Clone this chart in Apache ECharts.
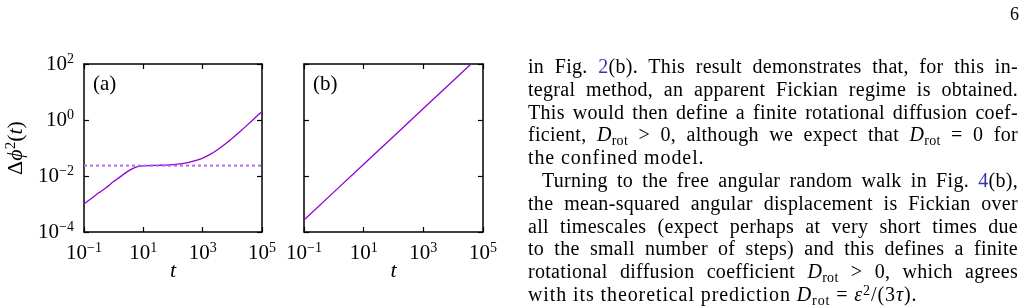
<!DOCTYPE html>
<html>
<head>
<meta charset="utf-8">
<script src="https://cdn.jsdelivr.net/npm/echarts@6/dist/echarts.min.js"></script>
<style>
  body { margin: 0; background: #fff; }
  #chart { position: absolute; left: 0; top: 0; width: 1029px; height: 307px; }
  #page { position: absolute; left: 1010px; top: 4px; font-family: 'Liberation Serif', serif; font-size: 18px; }
  #text { position: absolute; left: 528px; top: 55px; width: 490px; font-family: 'Liberation Serif', serif; font-size: 20px; letter-spacing: 0.3px; line-height: 22.8px; color: #000; }
  #text .j { text-align: justify; text-align-last: justify; }
  #text .l { text-align: left; letter-spacing: 0.9px; }
  #text .ind { text-indent: 14px; }
  #text sub { font-size: 0.7em; line-height: 0; vertical-align: -0.25em; }
  #text sup { font-size: 0.7em; line-height: 0; vertical-align: 0.45em; }
  #text .ref { color: #3333b3; }
</style>
</head>
<body>
<div id="chart"></div>
<div id="page">6</div>
<div id="text">
  <div class="j">in Fig. <span class="ref">2</span>(b). This result demonstrates that, for this in-</div>
  <div class="j">tegral method, an apparent Fickian regime is obtained.</div>
  <div class="j">This would then define a finite rotational diffusion coef-</div>
  <div class="j">ficient, <i>D</i><sub>rot</sub> &gt; 0, although we expect that <i>D</i><sub>rot</sub> = 0 for</div>
  <div class="l">the confined model.</div>
  <div class="j ind">Turning to the free angular random walk in Fig. <span class="ref">4</span>(b),</div>
  <div class="j">the mean-squared angular displacement is Fickian over</div>
  <div class="j">all timescales (expect perhaps at very short times due</div>
  <div class="j">to the small number of steps) and this defines a finite</div>
  <div class="j">rotational diffusion coefficient <i>D</i><sub>rot</sub> &gt; 0, which agrees</div>
  <div class="l">with its theoretical prediction <i>D</i><sub>rot</sub> = <i>ε</i><sup>2</sup>/(3<i>τ</i>).</div>
</div>
<script>
// (a) confined walk, read at quarter decades
var timeA = [0.1, 0.178, 0.316, 0.562, 1, 1.78, 3.16, 5.62, 10, 17.8, 31.6, 56.2, 100, 178, 316, 562,
             1000, 1778, 3162, 5623, 10000, 17783, 31623, 56234, 100000];
var msdA = [0.001, 0.00158, 0.00251, 0.00389, 0.00631, 0.0099, 0.0153, 0.0207, 0.0231, 0.0237, 0.0241, 0.02455, 0.0254,
            0.0269, 0.0302, 0.0355, 0.0437, 0.0589, 0.0871, 0.136, 0.224, 0.38, 0.656, 1.148, 2.02];
var plateauA = 0.0235;
// (b) free walk
var timeB = [0.1, 1, 10, 100, 1000, 10000, 100000];
var msdB = [0.000268, 0.00265, 0.0262, 0.259, 2.57, 25.4, 251];
// tick exponents
var xTickExp = [-1, 1, 3, 5];
var yTickExp = [-4, -2, 0, 2];

var serif = 'Liberation Serif';
var chart = echarts.init(document.getElementById('chart'));

function pairs(xs, ys) {
  return xs.map(function (x, i) { return [x, ys[i]]; });
}
function powLabel(v) {
  var e = Math.round(Math.log(v) / Math.LN10);
  return '{b|10}{s|' + (e < 0 ? '\u2212' + (-e) : e) + '}';
}
var rich = {
  b: { fontFamily: serif, fontSize: 21, lineHeight: 24, color: '#000' },
  s: { fontFamily: serif, fontSize: 14, lineHeight: 14, verticalAlign: 'top', color: '#000' }
};
var lineBlack = { show: true, onZero: false, lineStyle: { color: '#000', width: 1.5 } };
var tickIn = { show: true, inside: true, length: 5, lineStyle: { color: '#000', width: 1.2 } };

function xAxes(g) {
  var base = {
    type: 'log', logBase: 10, gridIndex: g,
    min: Math.pow(10, xTickExp[0]), max: Math.pow(10, xTickExp[xTickExp.length - 1]),
    interval: 2,
    axisLine: lineBlack, axisTick: tickIn, splitLine: { show: false }, minorTick: { show: false }
  };
  return [
    Object.assign({}, base, {
      position: 'bottom',
      axisLabel: { margin: 9, formatter: powLabel, rich: rich },
      name: 't', nameLocation: 'middle', nameGap: 28, nameMoveOverlap: false,
      nameTextStyle: { fontFamily: serif, fontStyle: 'italic', fontSize: 22, color: '#000' }
    }),
    Object.assign({}, base, { position: 'top', axisLabel: { show: false } })
  ];
}
function yAxes(g, labels) {
  var base = {
    type: 'log', logBase: 10, gridIndex: g,
    min: Math.pow(10, yTickExp[0]), max: Math.pow(10, yTickExp[yTickExp.length - 1]),
    interval: 2,
    axisLine: lineBlack, axisTick: tickIn, splitLine: { show: false }, minorTick: { show: false }
  };
  var left = Object.assign({}, base, {
    position: 'left',
    axisLabel: { show: labels, margin: 10, formatter: powLabel, rich: rich }
  });
  if (labels) {
    left.name = '{n|\u0394}{i|\u03d5}{s|2}{n|(}{i|t}{n|)}';
    left.nameLocation = 'middle';
    left.nameRotate = 90;
    left.nameGap = 56;
    left.nameTextStyle = {
      rich: {
        n: { fontFamily: serif, fontSize: 22, lineHeight: 24, color: '#000' },
        i: { fontFamily: serif, fontStyle: 'italic', fontSize: 22, lineHeight: 24, color: '#000' },
        s: { fontFamily: serif, fontSize: 15, lineHeight: 15, verticalAlign: 'top', color: '#000' }
      }
    };
  }
  return [left, Object.assign({}, base, { position: 'right', axisLabel: { show: false } })];
}

var option = {
  animation: false,
  backgroundColor: '#fff',
  grid: [
    { left: 84, top: 64, width: 178, height: 168, containLabel: false },
    { left: 304, top: 64, width: 179, height: 168, containLabel: false }
  ],
  xAxis: xAxes(0).concat(xAxes(1)),
  yAxis: yAxes(0, true).concat(yAxes(1, false)),
  series: [
    {
      type: 'line', xAxisIndex: 0, yAxisIndex: 0, data: pairs(timeA, msdA),
      showSymbol: false, smooth: 0.3, lineStyle: { color: '#9400d3', width: 1.3 }
    },
    {
      type: 'line', xAxisIndex: 0, yAxisIndex: 0,
      data: [[timeA[0], plateauA], [timeA[timeA.length - 1], plateauA]],
      showSymbol: false, lineStyle: { color: '#b46ae8', width: 2, type: [3, 3] }
    },
    {
      type: 'line', xAxisIndex: 2, yAxisIndex: 2, data: pairs(timeB, msdB),
      showSymbol: false, clip: true, lineStyle: { color: '#9400d3', width: 1.3 }
    }
  ],
  graphic: [
    { type: 'text', left: 93, top: 74, style: { text: '(a)', font: '21px "Liberation Serif"', fill: '#000' } },
    { type: 'text', left: 313, top: 74, style: { text: '(b)', font: '21px "Liberation Serif"', fill: '#000' } }
  ]
};
chart.setOption(option);
</script>
</body>
</html>
